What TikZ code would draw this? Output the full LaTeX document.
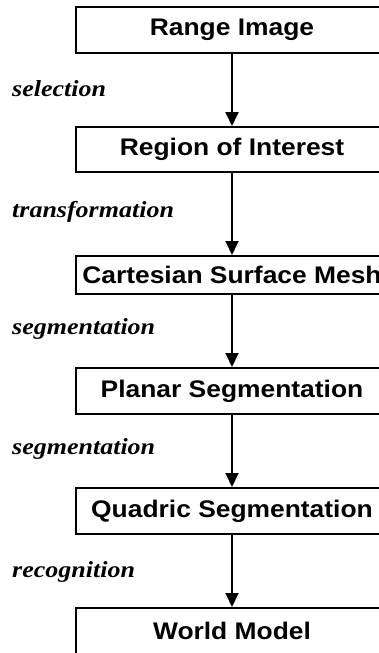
\documentclass[tikz,border=0pt]{standalone}
\usepackage{fontspec}
\usetikzlibrary{arrows.meta}
\newfontfamily\boxfont{Liberation Sans}[FakeStretch=1.1]
\newfontfamily\labfont{Liberation Serif}[FakeStretch=1.13]
\begin{document}
\begin{tikzpicture}[x=1pt,y=-1pt,
  stagebox/.style={draw, line width=2pt, minimum width=312pt, inner sep=0pt,
    font=\boxfont\bfseries\fontsize{24pt}{28pt}\selectfont},
  steplabel/.style={anchor=base west, inner sep=0pt,
    font=\labfont\bfseries\itshape\fontsize{23pt}{27pt}\selectfont},
  flow/.style={draw, line width=2pt, -{Triangle[length=14pt,width=13pt]}}]
\path[use as bounding box, clip] (0,0) rectangle (379,653);
\node[stagebox, minimum height=46pt] (range) at (232,30) {Range Image};
\node[stagebox, minimum height=45pt] (roi) at (232,149.5) {Region of Interest};
\node[stagebox, minimum height=38pt] (mesh) at (232,275) {Cartesian Surface Mesh};
\node[stagebox, minimum height=46pt] (planar) at (232,391) {Planar Segmentation};
\node[stagebox, minimum height=46pt] (quadric) at (232,511) {Quadric Segmentation};
\node[stagebox, minimum height=46pt] (world) at (232,631) {World Model};
\draw[flow] (range) -- (roi);
\draw[flow] (roi) -- (mesh);
\draw[flow] (mesh) -- (planar);
\draw[flow] (planar) -- (quadric);
\draw[flow] (quadric) -- (world);
\node[steplabel] (l1) at (12,96) {selection};
\node[steplabel] (l2) at (12,217) {transformation};
\node[steplabel] (l3) at (12,334) {segmentation};
\node[steplabel] (l4) at (12,454) {segmentation};
\node[steplabel] (l5) at (12,577) {recognition};
\end{tikzpicture}
\end{document}
